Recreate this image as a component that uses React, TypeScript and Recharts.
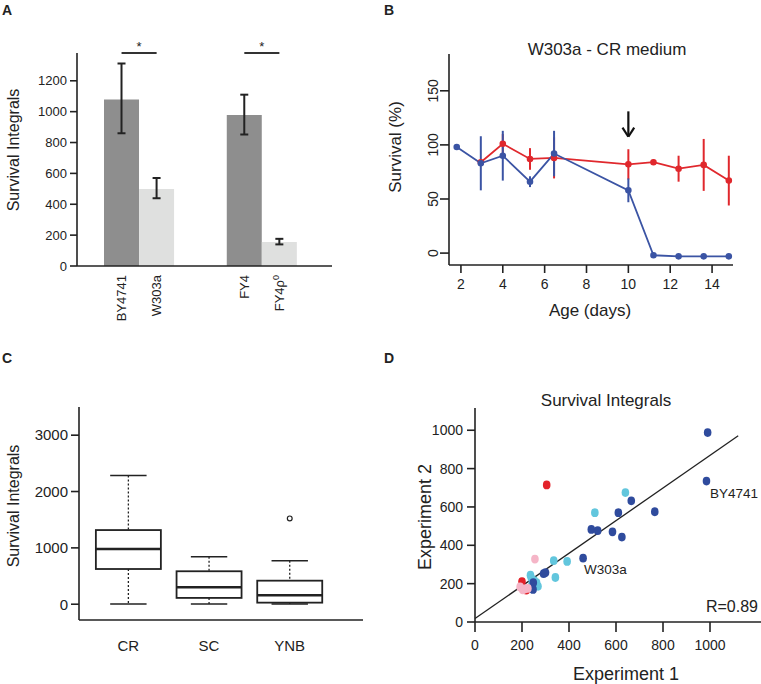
import React from "react"
import {
  ComposedChart,
  Bar,
  Cell,
  ErrorBar,
  XAxis,
  YAxis,
  Line,
  Scatter,
  ReferenceLine,
  ReferenceDot,
} from "recharts"

const FONT = '"Liberation Sans", Arial, Helvetica, sans-serif'
const INK = "#222"

// --- A: survival integrals per strain
const strains = ["BY4741", "W303a", "FY4", "FY4ρ0"]
const strainSurvival = [1078, 499, 978, 155]
const strainErrLow = [218, 60, 126, 15]
const strainErrHigh = [234, 71, 132, 21]

// --- B: W303a in CR medium
const blueDays = [1.8, 2.95, 4.0, 5.3, 6.45, 10.0, 11.2, 12.4, 13.6, 14.8]
const blueSurvival = [98, 83, 90, 66, 92, 58, -2, -3, -3, -3]
const blueErr = [0, 25, 23, 5, 21, 11, 0, 0, 0, 0]
const redDays = [2.95, 4.0, 5.3, 6.45, 10.0, 11.2, 12.4, 13.6, 14.8]
const redSurvival = [84, 101, 87, 88, 82, 84, 78, 81.5, 67]
const redErr = [0, 9, 10, 19, 14, 2.5, 12, 24, 23]
const ageTicks = [2, 4, 6, 8, 10, 12, 14]

// --- C: survival integrals per medium (box plot stats)
const media = ["CR", "SC", "YNB"]
const whiskerLow = [5, 5, 5]
const quartile1 = [625, 112, 28]
const medians = [980, 301, 159]
const quartile3 = [1316, 585, 418]
const whiskerHigh = [2285, 843, 772]
const outliers = [[], [], [1523]]

// --- D: experiment 1 vs experiment 2
const darkExp1 = [990, 985, 665, 610, 765, 495, 522, 585, 625, 460, 292, 300, 248, 247]
const darkExp2 = [988, 735, 632, 570, 575, 483, 476, 470, 443, 333, 252, 258, 205, 170]
const cyanExp1 = [640, 510, 335, 392, 342, 236, 240, 262, 268, 242, 252]
const cyanExp2 = [675, 570, 320, 316, 232, 244, 228, 205, 186, 193, 215]
const redExp1 = [305, 200, 218]
const redExp2 = [715, 210, 166]
const pinkExp1 = [255, 203, 212, 192, 225]
const pinkExp2 = [328, 168, 172, 183, 175]
const fitLine = [
  { x: 0, y: 18 },
  { x: 1120, y: 971 },
]

const dataA = strains.map((name, i) => ({
  name,
  pos: Math.floor(i / 2) * 3.5 + (i % 2) + 1,
  value: strainSurvival[i],
  err: [strainErrLow[i], strainErrHigh[i]],
}))

const blueData = blueDays.map((day, i) => ({ day, surv: blueSurvival[i], err: blueErr[i] }))
const redData = redDays.map((day, i) => ({ day, surv: redSurvival[i], err: redErr[i] }))

const dataC = media.map((name, i) => ({
  name,
  pos: i + 1,
  range: [whiskerLow[i], whiskerHigh[i]],
  lo: whiskerLow[i],
  hi: whiskerHigh[i],
  q1: quartile1[i],
  median: medians[i],
  q3: quartile3[i],
  outliers: outliers[i],
}))

const toPoints = (xs: number[], ys: number[]) => xs.map((e1, i) => ({ e1, e2: ys[i] }))

const axisLine = { stroke: INK, strokeWidth: 1.6 }
const tickLine = { stroke: INK, strokeWidth: 1.6 }

function StrainTick({ x, y, payload }: any) {
  const name = dataA.find((d) => d.pos === payload.value)?.name ?? ""
  const hasSup = name.includes("ρ")
  const base = hasSup ? name.slice(0, -1) : name
  return (
    <text
      transform={`translate(${x},${y}) rotate(-90)`}
      textAnchor="end"
      dy="0.35em"
      fontSize={13}
      fontFamily={FONT}
      fill={INK}
    >
      {base}
      {hasSup && (
        <tspan dy="-0.5em" fontSize={9}>
          {name.slice(-1)}
        </tspan>
      )}
    </text>
  )
}

function RotatedTick({ x, y, payload }: any) {
  return (
    <text transform={`translate(${x},${y}) rotate(-90)`} textAnchor="middle" fontSize={14} fontFamily={FONT} fill={INK}>
      {payload.value}
    </text>
  )
}

function BoxShape(props: any) {
  const { x, y, width, height, payload } = props
  const top = Math.min(y, y + height)
  const h = Math.abs(height)
  const { lo, hi, q1, median, q3 } = payload
  const py = (v: number) => top + ((hi - v) / (hi - lo)) * h
  const cx = x + width / 2
  const cap = width * 0.28
  return (
    <g>
      <line x1={cx} x2={cx} y1={py(hi)} y2={py(q3)} stroke={INK} strokeWidth={1.3} strokeDasharray="2 2" />
      <line x1={cx} x2={cx} y1={py(q1)} y2={py(lo)} stroke={INK} strokeWidth={1.3} strokeDasharray="2 2" />
      <line x1={cx - cap} x2={cx + cap} y1={py(hi)} y2={py(hi)} stroke={INK} strokeWidth={1.5} />
      <line x1={cx - cap} x2={cx + cap} y1={py(lo)} y2={py(lo)} stroke={INK} strokeWidth={1.5} />
      <rect x={x} y={py(q3)} width={width} height={py(q1) - py(q3)} fill="#fff" stroke={INK} strokeWidth={1.8} />
      <line x1={x} x2={x + width} y1={py(median)} y2={py(median)} stroke={INK} strokeWidth={2.4} />
      {payload.outliers.map((o: number) => (
        <circle key={o} cx={cx} cy={py(o)} r={2.4} fill="none" stroke={INK} strokeWidth={1.2} />
      ))}
    </g>
  )
}

const dotShape = (color: string) => (p: any) => <ellipse cx={p.cx} cy={p.cy} rx={3.8} ry={4.4} fill={color} />

const starLabel = (props: any) => {
  const vb = props.viewBox
  return (
    <text x={vb.x + vb.width / 2} y={vb.y - 2} textAnchor="middle" fontSize={13} fontFamily={FONT} fill={INK}>
      *
    </text>
  )
}

const pointLabel = (text: string, dx: number, dy: number) => (props: any) => {
  const vb = props.viewBox
  return (
    <text x={vb.x + dx} y={vb.y + dy} fontSize={13.5} fontFamily={FONT} fill={INK}>
      {text}
    </text>
  )
}

function PanelA() {
  return (
    <ComposedChart width={380} height={340} data={dataA} margin={{ top: 53, right: 48, bottom: 0, left: 0 }}>
      <XAxis
        dataKey="pos"
        type="number"
        domain={[-0.27, 7]}
        ticks={dataA.map((d) => d.pos)}
        interval={0}
        tick={<StrainTick />}
        tickLine={false}
        tickSize={0}
        tickMargin={9}
        height={74}
        axisLine={axisLine}
      />
      <YAxis
        type="number"
        domain={[0, 1380]}
        ticks={[0, 200, 400, 600, 800, 1000, 1200]}
        width={77}
        tickSize={7}
        tickMargin={3}
        axisLine={axisLine}
        tickLine={tickLine}
        tick={{ fontSize: 13, fill: INK, fontFamily: FONT }}
      />
      <Bar dataKey="value" barSize={35} isAnimationActive={false}>
        {dataA.map((d, i) => (
          <Cell key={d.name} fill={i % 2 ? "#dfe0df" : "#8e8e8e"} />
        ))}
        <ErrorBar dataKey="err" width={4} stroke={INK} strokeWidth={2} />
      </Bar>
      <ReferenceLine segment={[{ x: 1, y: 1380 }, { x: 2, y: 1380 }]} stroke="#333" strokeWidth={2} ifOverflow="visible" label={starLabel} />
      <ReferenceLine segment={[{ x: 4.5, y: 1380 }, { x: 5.5, y: 1380 }]} stroke="#333" strokeWidth={2} ifOverflow="visible" label={starLabel} />
    </ComposedChart>
  )
}

const BLUE = "#3b54a4"
const RED = "#e0282d"

function PanelB() {
  return (
    <ComposedChart width={381} height={340} margin={{ top: 54, right: 28, bottom: 0, left: 0 }}>
      <XAxis
        dataKey="day"
        type="number"
        domain={[1.43, 15]}
        ticks={ageTicks}
        height={75}
        tickSize={8}
        tickMargin={6}
        axisLine={axisLine}
        tickLine={tickLine}
        tick={{ fontSize: 14, fill: INK, fontFamily: FONT }}
      />
      <YAxis
        type="number"
        domain={[-11, 184]}
        ticks={[0, 50, 100, 150]}
        width={69}
        tickSize={9}
        tickMargin={2}
        axisLine={axisLine}
        tickLine={tickLine}
        tick={<RotatedTick />}
      />
      <Line data={redData} dataKey="surv" stroke={RED} strokeWidth={1.8} dot={{ r: 2.4, fill: RED, stroke: RED }} isAnimationActive={false}>
        <ErrorBar dataKey="err" width={0} stroke={RED} strokeWidth={2} direction="y" />
      </Line>
      <Line data={blueData} dataKey="surv" stroke={BLUE} strokeWidth={1.8} dot={{ r: 2.4, fill: BLUE, stroke: BLUE }} isAnimationActive={false}>
        <ErrorBar dataKey="err" width={0} stroke={BLUE} strokeWidth={2} direction="y" />
      </Line>
      <ReferenceLine segment={[{ x: 10, y: 131 }, { x: 10, y: 108 }]} stroke="#111" strokeWidth={2.2} ifOverflow="visible" />
      <ReferenceLine segment={[{ x: 9.72, y: 116 }, { x: 10, y: 107.5 }]} stroke="#111" strokeWidth={2.2} ifOverflow="visible" />
      <ReferenceLine segment={[{ x: 10.28, y: 116 }, { x: 10, y: 107.5 }]} stroke="#111" strokeWidth={2.2} ifOverflow="visible" />
    </ComposedChart>
  )
}

function PanelC() {
  return (
    <ComposedChart width={380} height={344} data={dataC} margin={{ top: 67, right: 17, bottom: 0, left: 0 }}>
      <XAxis
        dataKey="pos"
        type="number"
        domain={[0.39, 3.91]}
        ticks={[1, 2, 3]}
        tickFormatter={(v: number) => media[v - 1]}
        tickLine={false}
        tickSize={0}
        tickMargin={20}
        height={64}
        axisLine={axisLine}
        tick={{ fontSize: 15, fill: INK, fontFamily: FONT }}
      />
      <YAxis
        type="number"
        domain={[-280, 3500]}
        ticks={[0, 1000, 2000, 3000]}
        width={79}
        tickSize={8}
        tickMargin={3}
        axisLine={axisLine}
        tickLine={tickLine}
        tick={{ fontSize: 15, fill: INK, fontFamily: FONT }}
      />
      <Bar dataKey="range" barSize={65} shape={<BoxShape />} isAnimationActive={false} />
    </ComposedChart>
  )
}

function PanelD() {
  return (
    <ComposedChart width={381} height={344} margin={{ top: 68, right: 0, bottom: 0, left: 0 }}>
      <XAxis
        dataKey="e1"
        type="number"
        domain={[0, 1217]}
        ticks={[0, 200, 400, 600, 800, 1000]}
        height={62}
        tickSize={10}
        tickMargin={8}
        axisLine={axisLine}
        tickLine={tickLine}
        tick={{ fontSize: 14, fill: INK, fontFamily: FONT }}
      />
      <YAxis
        dataKey="e2"
        type="number"
        domain={[0, 1116]}
        ticks={[0, 200, 400, 600, 800, 1000]}
        width={95}
        tickSize={8}
        tickMargin={4}
        axisLine={axisLine}
        tickLine={tickLine}
        tick={{ fontSize: 14, fill: INK, fontFamily: FONT }}
      />
      <ReferenceLine segment={fitLine} stroke={INK} strokeWidth={1.3} ifOverflow="visible" />
      <Scatter data={toPoints(cyanExp1, cyanExp2)} shape={dotShape("#62c6dd")} isAnimationActive={false} />
      <Scatter data={toPoints(darkExp1, darkExp2)} shape={dotShape("#2f4b9d")} isAnimationActive={false} />
      <Scatter data={toPoints(redExp1, redExp2)} shape={dotShape("#e3222a")} isAnimationActive={false} />
      <Scatter data={toPoints(pinkExp1, pinkExp2)} shape={dotShape("#f5b5c7")} isAnimationActive={false} />
      <ReferenceDot x={985} y={735} r={0} fill="none" stroke="none" label={pointLabel("BY4741", 3.5, 17)} />
      <ReferenceDot x={460} y={333} r={0} fill="none" stroke="none" label={pointLabel("W303a", 1, 15.5)} />
    </ComposedChart>
  )
}

const place = (left: number, top: number): React.CSSProperties => ({ position: "absolute", left, top })

export default function App() {
  const t = { fontFamily: FONT, fill: INK }
  return (
    <div style={{ position: "absolute", left: 0, top: 0, width: 761, height: 684, background: "#fff" }}>
      <div style={place(0, 0)}>
        <PanelA />
      </div>
      <div style={place(380, 0)}>
        <PanelB />
      </div>
      <div style={place(0, 340)}>
        <PanelC />
      </div>
      <div style={place(380, 340)}>
        <PanelD />
      </div>
      <svg width={761} height={684} style={{ position: "absolute", left: 0, top: 0, pointerEvents: "none" }}>
        <text x={2} y={15} fontSize={14} fontWeight="bold" {...t}>A</text>
        <text x={384} y={15} fontSize={14} fontWeight="bold" {...t}>B</text>
        <text x={2} y={363} fontSize={14} fontWeight="bold" {...t}>C</text>
        <text x={384} y={363} fontSize={14} fontWeight="bold" {...t}>D</text>

        <text transform="translate(13,150) rotate(-90)" textAnchor="middle" dy="0.35em" fontSize={16} {...t}>
          Survival Integrals
        </text>

        <text x={607} y={55} textAnchor="middle" fontSize={17} {...t}>W303a - CR medium</text>
        <text x={590} y={316} textAnchor="middle" fontSize={17} {...t}>Age (days)</text>
        <text transform="translate(395,147) rotate(-90)" textAnchor="middle" dy="0.35em" fontSize={17} {...t}>
          Survival (%)
        </text>

        <text transform="translate(13,506) rotate(-90)" textAnchor="middle" dy="0.35em" fontSize={16} {...t}>
          Survival Integrals
        </text>

        <text x={606} y={406} textAnchor="middle" fontSize={17} {...t}>Survival Integrals</text>
        <text x={626} y={680} textAnchor="middle" fontSize={18} {...t}>Experiment 1</text>
        <text transform="translate(425,517) rotate(-90)" textAnchor="middle" dy="0.35em" fontSize={18} {...t}>
          Experiment 2
        </text>
        <text x={758} y={612} textAnchor="end" fontSize={16} {...t}>R=0.89</text>
      </svg>
    </div>
  )
}
